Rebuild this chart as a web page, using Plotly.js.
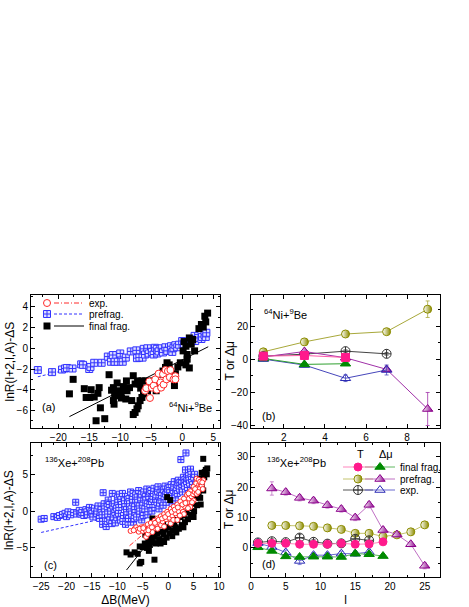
<!DOCTYPE html>
<html>
<head>
<meta charset="utf-8">
<script src="https://cdn.plot.ly/plotly-3.0.1.min.js"></script>
<style>
  html, body { margin: 0; padding: 0; background: #fff; }
  #chart { width: 469px; height: 607px; }
</style>
</head>
<body>
<div id="chart"></div>
<script>
// isoscaling / temperature figure, four panels
console.log("chart loaded");

/* -----------------------------
   Panel (a): 64Ni+9Be, [dB, lnR - dS]
------------------------------*/
const expA = [[-6.0,-4.1],[-5.8,-3.85],[-5.2,-4.8],[-5.3,-3.2],[-4.9,-3.8],[-4.6,-3.6],[-4.35,-3.0],
  [-4.1,-4.0],[-3.8,-2.45],[-3.5,-3.3],[-3.4,-3.8],[-3.1,-2.5],[-3.0,-3.5],[-2.7,-2.1],[-2.55,-3.0],
  [-2.3,-2.2],[-2.0,-2.8],[-1.9,-2.1],[-1.4,-3.0],[-1.1,-2.7],[-1.1,-3.0]];

const preA = [[-23.3,-2.1],[-21.0,-2.3],[-19.4,-2.05],[-18.9,-1.95],[-18.6,-1.9],[-17.7,-1.95],
  [-16.3,-1.55],[-16.0,-1.6],[-15.0,-2.0],[-14.8,-1.8],[-14.2,-1.4],[-13.0,-1.4],[-12.0,-0.8],
  [-11.5,-1.3],[-11.2,-0.65],[-10.9,-1.3],[-10.4,-1.3],[-10.0,-0.5],[-9.6,-1.3],[-9.1,-0.9],
  [-8.3,-0.3],[-7.4,-0.2],[-7.3,-0.95],[-6.9,-0.9],[-6.4,-0.9],[-6.2,-0.05],[-6.0,-0.6],[-5.6,0.0],
  [-5.4,-0.5],[-4.9,-0.35],[-4.6,-0.6],[-4.4,0.05],[-4.1,-0.05],[-4.0,-0.5],[-3.8,-0.3],[-3.3,0.0],
  [-3.1,-0.4],[-2.7,0.1],[-2.4,-0.25],[-1.8,0.2],[-1.6,-0.35],[-1.4,0.05],[-1.1,0.3],[-0.8,0.1],
  [-0.5,0.35],[0.0,0.7],[0.3,0.4],[0.8,0.6],[1.4,0.65],[1.6,0.8],[2.0,1.2],[2.1,0.7],[2.6,1.0],
  [3.1,0.9],[3.2,1.1],[3.6,1.3],[3.8,1.1],[3.9,1.5]];

const finA = [[-18.2,-4.4],[-17.6,-3.0],[-15.8,-3.9],[-15.5,-4.75],[-14.7,-4.0],[-14.9,-4.75],
  [-14.2,-4.7],[-13.4,-3.8],[-13.6,-4.35],[-13.9,-7.0],[-13.2,-5.75],[-12.5,-6.8],[-11.8,-2.55],
  [-11.4,-4.05],[-11.1,-3.8],[-10.9,-4.6],[-10.5,-3.35],[-10.3,-4.1],[-11.1,-5.05],[-11.0,-5.4],
  [-9.9,-4.25],[-9.8,-4.8],[-9.5,-3.7],[-9.0,-3.15],[-8.9,-4.1],[-8.5,-3.8],[-9.1,-4.9],[-8.15,-5.05],
  [-7.9,-2.65],[-7.6,-3.45],[-7.2,-3.15],[-6.9,-3.45],[-6.5,-3.15],[-6.7,-3.85],[-6.25,-4.4],
  [-5.9,-3.15],[-5.6,-4.1],[-7.9,-6.4],[-7.6,-6.2],[-7.3,-5.85],[-7.1,-5.55],[-6.8,-5.05],[-6.5,-4.75],
  [-5.2,-3.6],[-4.7,-3.15],[-4.5,-3.45],[-4.2,-4.1],[-3.8,-3.45],[-3.5,-2.5],[-3.1,-2.2],[-2.7,-1.85],
  [-2.45,-1.4],[-2.1,-1.6],[-1.6,-2.9],[-1.25,-3.6],[-1.1,-2.45],[-0.7,-1.8],[-0.3,-1.4],[0.15,-0.25],
  [0.3,0.65],[0.6,0.2],[0.8,-0.6],[1.15,1.0],[1.45,0.4],[1.7,0.85],[0.8,-1.05],[0.6,-1.6],[1.15,-1.9],
  [2.0,-0.25],[2.7,1.9],[3.1,2.3],[3.4,2.05],[3.8,2.55],[3.65,3.1],[4.1,3.4]];

const fitExpA = [[-6.0,-4.0],[-1.0,-2.3]];
const fitPreA = [[-23.3,-2.75],[4.0,1.2]];
const fitFinA = [[-18.2,-6.6],[4.2,0.15]];

/* -----------------------------
   Panel (c): 136Xe+208Pb
------------------------------*/
const preC = [[-25,-1.1],[-24.4,-1.0],[-22.5,-0.75],[-21.8,-0.85],[-21.4,-0.6],[-20.8,-0.45],
  [-20.3,-0.3],[-20.0,-0.75],[-19.7,-0.1],[-19.2,-0.5],[-18.6,-0.2],[-18.2,1.2],[-18.0,-0.4],
  [-17.5,0.1],[-17.2,-0.4],[-17.0,-0.2],[-16.6,-0.6],[-16.2,0.2],[-16.0,-0.1],[-15.9,-0.5],
  [-15.5,0.5],[-15.2,-0.1],[-15.0,-0.3],[-14.8,-0.8],[-14.5,0.4],[-14.1,-0.3],[-14.0,0.0],
  [-13.8,0.7],[-13.5,-1.0],[-13.2,0.2],[-13.0,-0.5],[-12.9,-1.8],[-12.8,2.5],[-12.6,1.0],
  [-12.5,0.3],[-12.4,-0.5],[-12.2,-2.1],[-12.0,0.6],[-12.0,-1.4],[-11.9,-0.4],[-11.8,1.5],
  [-11.6,0.9],[-11.5,-1.2],[-11.3,0.0],[-11.1,-1.7],[-11.0,2.4],[-10.9,0.7],[-10.8,-0.8],
  [-10.6,1.0],[-10.5,-0.2],[-10.4,-1.6],[-10.2,0.4],[-10.1,-0.9],[-10.0,1.8],[-9.9,1.2],
  [-9.8,-0.3],[-9.7,0.5],[-9.6,2.3],[-9.4,-1.2],[-9.3,1.6],[-9.2,0.9],[-9.0,2.4],[-8.9,-1.4],
  [-8.8,-0.6],[-8.6,1.4],[-8.5,0.6],[-8.4,-1.8],[-8.2,0.2],[-8.1,-0.5],[-8.0,2.0],[-7.9,-1.5],
  [-7.8,-1.0],[-7.7,1.7],[-7.6,1.0],[-7.4,2.6],[-7.3,0.3],[-7.2,-0.4],[-7.0,1.6],[-6.9,2.4],
  [-6.8,-1.5],[-6.7,-1.0],[-6.6,0.6],[-6.5,-0.2],[-6.4,2.2],[-6.2,-0.8],[-6.1,1.9],[-6.0,1.2],
  [-5.8,2.8],[-5.7,0.7],[-5.6,0.0],[-5.4,1.8],[-5.3,2.3],[-5.2,-1.2],[-5.0,0.8],[-4.9,-0.6],
  [-4.8,2.6],[-4.6,0.3],[-4.5,2.0],[-4.4,1.5],[-4.2,3.0],[-4.1,1.0],[-4.0,-0.5],[-3.8,2.0],
  [-3.7,2.6],[-3.6,0.9],[-3.4,2.8],[-3.3,1.3],[-3.2,0.0],[-3.0,1.6],[-2.9,2.4],[-2.8,3.1],
  [-2.6,0.5],[-2.5,1.6],[-2.4,2.2],[-2.2,1.2],[-2.1,2.7],[-2.0,3.3],[-1.8,0.3],[-1.7,1.1],
  [-1.6,2.5],[-1.4,1.5],[-1.3,2.1],[-1.2,3.0],[-1.0,0.8],[-0.9,2.9],[-0.8,2.0],[-0.6,3.4],
  [-0.5,2.3],[-0.4,1.2],[-0.2,2.6],[-0.1,3.0],[0.0,1.6],[0.2,3.2],[0.3,2.5],[0.4,2.0],[0.6,3.6],
  [0.7,2.1],[0.8,1.0],[1.0,2.8],[1.1,3.4],[1.2,4.0],[1.4,1.8],[1.5,2.6],[1.6,3.2],[1.8,2.4],
  [1.9,3.5],[2.0,4.2],[2.2,3.0],[2.3,3.9],[2.5,7.0],[2.6,3.8],[2.7,3.2],[2.8,2.6],[3.0,4.6],
  [3.1,3.8],[3.2,3.4],[3.3,4.3],[3.4,5.6],[3.5,7.9],[3.6,4.0],[3.7,4.6],[3.8,3.2],[4.0,4.8],
  [4.1,4.2],[4.2,3.8],[4.4,5.7],[4.5,5.0],[4.6,4.3],[4.8,3.6],[5.0,4.6],[5.2,5.0]];

const finC = [[-8.2,-5.6],[-7.4,-5.9],[-6.6,-5.6],[-6.0,-5.8],[-5.6,-7.1],[-5.3,-6.9],[-2.7,-6.6],
  [-5.6,-4.8],[-5.0,-4.9],[-4.6,-4.4],[-4.2,-5.0],[-3.9,-4.0],[-3.8,-5.4],[-3.6,-4.6],[-3.3,-3.6],
  [-3.0,-4.2],[-2.7,-3.4],[-2.4,-4.4],[-2.1,-3.0],[-1.8,-3.8],[-1.5,-2.8],[-1.5,-4.4],[-1.2,-4.0],
  [-0.9,-3.2],[-0.8,-4.2],[-0.6,-2.5],[-0.3,-3.6],[0.0,-2.2],[0.3,-3.0],[0.6,-1.8],[0.8,-3.4],
  [0.9,-2.6],[1.2,-1.5],[1.5,-2.2],[1.6,-2.9],[1.8,-1.2],[2.1,-2.4],[2.4,-0.8],[2.7,-1.9],
  [3.0,-0.6],[3.0,-2.2],[3.3,-1.5],[3.6,-0.2],[3.9,-1.1],[4.2,0.4],[4.5,-0.5],[4.8,1.0],
  [5.0,-0.8],[5.1,0.0],[5.4,1.8],[5.7,0.8],[6.0,2.6],[6.3,1.8],[6.4,0.9],[6.6,3.4],[6.9,2.8],
  [7.1,4.6],[7.4,5.6],[7.6,5.0],[6.9,7.1],[7.2,5.3],[7.7,5.8],[6.6,5.2],[6.2,4.4],[-3.1,-1.0],
  [-0.2,1.9],[0.4,1.5],[-1.0,-1.6],[0.5,-0.8],[-4.5,-3.2],[2.0,0.0],[4.0,2.0]];

const expC = [[-7.4,-2.7],[-6.6,-2.4],[-6.3,-2.2],[-6.0,-2.5],[-5.8,-2.8],[-5.3,-2.2],[-5.0,-2.7],
  [-4.7,-2.1],[-4.4,-2.6],[-4.35,-3.5],[-4.0,-1.8],[-4.0,-3.1],[-3.7,-2.3],[-3.4,-1.6],[-3.1,-2.85],
  [-2.9,-2.0],[-2.7,-1.3],[-2.4,-1.8],[-2.1,-1.0],[-2.1,-2.4],[-1.7,-1.6],[-1.45,-0.7],[-1.4,-1.9],
  [-1.1,-1.4],[-0.8,-0.4],[-0.8,-2.1],[-0.4,-1.1],[-0.2,-0.1],[0.2,-0.9],[0.5,0.3],[0.5,-1.7],
  [0.8,-0.6],[1.0,-1.2],[1.1,0.6],[1.4,-0.3],[1.8,0.9],[1.8,-1.2],[2.0,0.0],[2.4,1.3],[2.6,0.4],
  [2.9,-0.1],[3.1,1.7],[3.1,-0.4],[3.2,0.7],[3.7,2.2],[3.8,1.2],[4.1,1.7],[4.35,2.7],[4.35,0.55],
  [4.6,2.0],[4.9,2.3],[5.0,3.3],[5.0,1.45],[5.2,2.6],[5.5,3.8],[5.6,4.4],[5.6,2.35],[5.8,3.2],
  [6.0,4.25],[6.1,3.6],[6.2,3.0],[6.4,3.7],[6.6,3.5],[6.8,3.0],[6.9,4.2],
  [-6.8,-2.6],[-5.6,-2.4],[-4.9,-2.3],[-3.9,-2.6],[-3.2,-2.2],[-2.6,-1.6],[-1.9,-1.2],[-1.2,-1.0],
  [-0.6,-0.8],[0.0,-0.4],[0.7,-0.1],[1.3,0.2],[1.9,0.5],[2.3,-0.6],[2.8,0.9],[3.4,1.1],[3.9,0.4],
  [4.0,2.4],[4.7,1.2],[5.3,3.0],[5.9,2.6],[6.3,4.0],[6.7,3.9]];

const fitExpC = [[-7.6,-4.7],[6.5,3.5]];
const fitPreC = [[-25.0,-2.9],[5.0,1.7]];
const fitFinC = [[-8.2,-8.0],[7.5,5.7]];

/* -----------------------------
   Panel (b): 64Ni+9Be, T and dmu vs l
------------------------------*/
const lB        = [1, 3, 5, 7, 9];
const tFinB     = [2.0, 2.4, 1.2];
const muFinB    = [0.6, -3.0, -2.6];
const tPreB     = [4.6, 10.6, 15.4, 16.8, 30.4];
const tPreErrB  = [0.5, 0.5, 0.5, 0.5, 5.0];
const muPreB    = [1.5, 4.8, 1.0, -6.0, -30.0];
const muPreErrB = [0.5, 1.0, 0.5, 1.0, 10.0];
const tExpB     = [2.0, 3.2, 5.0, 3.4];
const tExpErrB  = [0.5, 0.8, 0.8, 0.8];
const muExpB    = [0.2, -3.4, -11.4, -6.4];
const muExpErrB = [0.6, 1.0, 2.0, 3.0];

/* -----------------------------
   Panel (d): 136Xe+208Pb
------------------------------*/
const lD        = [1, 3, 5, 7, 9, 11, 13, 15, 17, 19, 21, 23, 25];
const tFinD     = [1.5, 1.5, 1.5, 1.2, 1.2, 1.2, 1.5, 1.2, 1.3, 2.0];
const muFinD    = [0.2, -1.0, -2.8, -3.0, -2.9, -2.9, -3.0, -1.9, -2.1, -2.7];
const tPreD     = [7.4, 7.4, 7.3, 7.1, 6.6, 6.1, 4.8, 4.8, 3.8, 4.3, 5.3, 7.6];   // l = 3..25
const muPreD    = [19.6, 18.4, 16.5, 15.6, 14.1, 12.8, 10.0, 14.2, 5.9, 4.4, 1.2, -5.9];
const muPreErrD = [2.2, 1.0, 1.0, 1.0, 1.0, 1.0, 1.0, 1.0, 1.0, 0.8, 0.8, 1.0];
const tExpD     = [1.8, 2.2, 1.9, 3.4, 2.0, 1.4, 1.5, 3.0, 2.5];
const tExpErrD  = [1.0, 0.8, 0.8, 1.0, 0.8, 0.6, 0.6, 1.0, 0.8];
const muExpD    = [1.6, 0.3, -1.5, -4.3, -2.4, -2.4, -1.9, -1.9, -1.4];
const muExpErrD = [0.8, 0.8, 0.8, 1.2, 0.8, 0.8, 0.8, 0.8, 1.0];

/* -----------------------------
   Styling
------------------------------*/
const W = 469, H = 607;
const FONT = "Liberation Sans, Arial, sans-serif";
const BLANK = "\u00a0";   // symbol-only legend rows
const COL = {
    red: "#ff2a2a", blue: "#3333ff", blueFill: "#dadcff", black: "#000000",
    pink: "#ff1a8c", green: "#008a00", olive: "#8c8c00", purple: "#8b008b",
    navy: "#2a2ab4", gray: "#333333"
};

const xs = pts => pts.map(p => p[0]);
const ys = pts => pts.map(p => p[1]);

const MK_EXP = s => ({ symbol: "circle", size: s, color: "#ffffff", line: { color: COL.red, width: 1 } });
const MK_PRE = s => ({ symbol: "square-cross", size: s, color: COL.blueFill, line: { color: COL.blue, width: 1 } });
const MK_FIN = s => ({ symbol: "square", size: s, color: COL.black, line: { width: 0 } });

function cloud(pts, marker, xa, ya, legend) {
    return {
        type: "scatter", mode: "markers", x: xs(pts), y: ys(pts),
        xaxis: xa, yaxis: ya, marker, name: BLANK,
        showlegend: !!legend, legend: legend || "legend", hoverinfo: "skip"
    };
}

function fitLine(pts, color, dash, xa, ya, name, legend) {
    return {
        type: "scatter", mode: "lines", x: xs(pts), y: ys(pts),
        xaxis: xa, yaxis: ya, name: name || BLANK,
        line: { color, width: 1, dash },
        showlegend: !!legend, legend: legend || "legend", hoverinfo: "skip"
    };
}

function series(x, y, err, marker, lineColor, xa, ya, name, legend) {
    const t = {
        type: "scatter", mode: "lines+markers", x, y, xaxis: xa, yaxis: ya,
        name: name || BLANK, marker, line: { color: lineColor, width: 1 },
        showlegend: !!legend, legend: legend || "legend", hoverinfo: "skip"
    };
    if (err) t.error_y = { type: "data", array: err, visible: true, color: lineColor, thickness: 0.8, width: 2 };
    return t;
}

const mkTFin  = (sym) => ({ symbol: sym, size: 8, color: COL.pink, line: { color: COL.pink, width: 1 } });
const mkMuFin = () => ({ symbol: "triangle-up", size: 9, color: COL.green, line: { color: COL.green, width: 1 } });
const mkTPre  = () => ({ symbol: "circle", size: 8, color: "#ffffff",
                         gradient: { type: "horizontal", color: COL.olive }, line: { color: COL.olive, width: 1 } });
const mkMuPre = () => ({ symbol: "triangle-up", size: 9, color: "#ffffff",
                         gradient: { type: "horizontal", color: COL.purple }, line: { color: COL.purple, width: 1 } });
const mkTExp  = () => ({ symbol: "circle-cross-open", size: 9, color: COL.gray, line: { width: 1 } });
const mkMuExp = () => ({ symbol: "triangle-up-open", size: 9, color: COL.navy, line: { width: 1 } });

/* -----------------------------
   Traces
------------------------------*/
const traces = [
    // (a)
    fitLine(fitPreA, COL.blue, "3px,2px", "x", "y", "prefrag.", "legend5"),
    fitLine(fitFinA, COL.black, "solid", "x", "y", "final frag.", "legend6"),
    cloud(preA, MK_PRE(7), "x", "y", "legend2"),
    cloud(finA, MK_FIN(7), "x", "y", "legend3"),
    fitLine(fitExpA, COL.red, "5px,2px,1px,2px", "x", "y", "exp.", "legend4"),
    cloud(expA, MK_EXP(7), "x", "y", "legend"),

    // (c)
    fitLine(fitPreC, COL.blue, "3px,2px", "x3", "y3"),
    fitLine(fitFinC, COL.black, "solid", "x3", "y3"),
    cloud(preC, MK_PRE(6), "x3", "y3"),
    cloud(finC, MK_FIN(6), "x3", "y3"),
    fitLine(fitExpC, COL.red, "5px,2px,1px,2px", "x3", "y3"),
    cloud(expC, MK_EXP(5), "x3", "y3"),

    // (b)
    series(lB, tPreB, tPreErrB, mkTPre(), "#a8a83a", "x2", "y2"),
    series(lB.slice(0, 4), tExpB, tExpErrB, mkTExp(), "#444444", "x2", "y2"),
    series(lB, muPreB, muPreErrB, mkMuPre(), "#a030a8", "x2", "y2"),
    series(lB.slice(0, 4), muExpB, muExpErrB, mkMuExp(), "#4646bb", "x2", "y2"),
    series(lB.slice(0, 3), muFinB, null, mkMuFin(), "#2fa02f", "x2", "y2"),
    series(lB.slice(0, 3), tFinB, null, mkTFin("square"), "#ff5aa8", "x2", "y2"),

    // (d)
    series(lD.slice(1), tPreD, null, mkTPre(), "#c4c46e", "x4", "y4", "", "legend9"),
    series(lD.slice(1), muPreD, muPreErrD, mkMuPre(), "#c070c4", "x4", "y4", "prefrag.", "legend10"),
    series(lD.slice(0, 9), tExpD, tExpErrD, mkTExp(), "#555555", "x4", "y4", "", "legend11"),
    series(lD.slice(0, 9), muExpD, muExpErrD, mkMuExp(), "#6a6ad0", "x4", "y4", "exp.", "legend12"),
    series(lD.slice(0, 10), muFinD, null, mkMuFin(), "#60b860", "x4", "y4", "final frag.", "legend8"),
    series(lD.slice(0, 10), tFinD, null, mkTFin("circle"), "#ff86bd", "x4", "y4", "", "legend7")
];

/* -----------------------------
   Layout
------------------------------*/
function axis(range, dtick, minor, domain, anchor, extra) {
    return Object.assign({
        range, dtick, tick0: 0, domain, anchor,
        showline: true, linecolor: "#000", linewidth: 1, mirror: "ticks",
        ticks: "inside", ticklen: 4, tickwidth: 1, tickcolor: "#000",
        minor: { dtick: minor, tick0: 0, ticks: "inside", ticklen: 2, tickcolor: "#000", showgrid: false },
        showgrid: false, zeroline: false, fixedrange: true,
        tickfont: { family: FONT, size: 10, color: "#000" }
    }, extra || {});
}

const ttl = text => ({ text, font: { family: FONT, size: 12, color: "#000" } });

const dxL = [31 / W, 220 / W], dxR = [251 / W, 440 / W];
const dyT = [(H - 428) / H, (H - 295) / H], dyB = [(H - 577) / H, (H - 443) / H];

function legendAt(px, py) {
    return {
        x: px / W, y: 1 - py / H, xanchor: "left", yanchor: "middle",
        bgcolor: "rgba(0,0,0,0)", borderwidth: 0,
        font: { family: FONT, size: 10, color: "#000" },
        itemclick: false, itemdoubleclick: false
    };
}

function note(text, xref, yref, x, y, size) {
    return { text, xref, yref, x, y, xanchor: "left", yanchor: "middle", showarrow: false,
             font: { family: FONT, size: size || 11, color: "#000" } };
}

// rotated y titles, placed by pixel column left of each panel
function yTitle(text, px, domain) {
    return { text, xref: "paper", yref: "paper", x: px / W, y: (domain[0] + domain[1]) / 2,
             xanchor: "center", yanchor: "middle", textangle: -90, showarrow: false,
             font: { family: FONT, size: 12, color: "#000" } };
}

const NI = "<sup>64</sup>Ni+<sup>9</sup>Be";
const XE = "<sup>136</sup>Xe+<sup>208</sup>Pb";

const layout = {
    width: W, height: H,
    margin: { l: 0, r: 0, t: 0, b: 0 },
    paper_bgcolor: "#fff", plot_bgcolor: "#fff",
    font: { family: FONT, color: "#000" },
    xaxis:  axis([-24.4, 6.1], 5, 2.5, dxL, "y"),
    yaxis:  axis([-7.7, 5.15], 2, 1, dyT, "x"),
    xaxis2: axis([0.4, 9.6], 2, 1, dxR, "y2"),
    yaxis2: axis([-41.5, 39], 20, 10, dyT, "x2"),
    xaxis3: axis([-27, 10.2], 5, 2.5, dxL, "y3", { title: ttl("ΔB(MeV)") }),
    yaxis3: axis([-8.95, 9.25], 5, 2.5, dyB, "x3"),
    xaxis4: axis([0, 27.2], 5, 2.5, dxR, "y4", { title: ttl("l") }),
    yaxis4: axis([-9.6, 34.6], 10, 5, dyB, "x4"),

    // panel (a) key: symbol column, then line + label column
    legend:   legendAt(27, 303),
    legend2:  legendAt(27, 314),
    legend3:  legendAt(27, 326),
    legend4:  legendAt(49, 303),
    legend5:  legendAt(49, 314),
    legend6:  legendAt(49, 326),
    // panel (d) key: T column, dmu column + label
    legend7:  legendAt(338, 467),
    legend8:  legendAt(360, 467),
    legend9:  legendAt(338, 479),
    legend10: legendAt(360, 479),
    legend11: legendAt(338, 490),
    legend12: legendAt(360, 490),

    annotations: [
        yTitle("lnR(l+2,l,A)-ΔS", 9, dyT),
        yTitle("lnR(l+2,l,A)-ΔS", 9, dyB),
        yTitle("T or Δμ", 229, dyT),
        yTitle("T or Δμ", 229, dyB),
        note("(a)", "x domain", "y domain", 0.048, 0.158),
        note(NI, "x domain", "y domain", 0.72, 0.158),
        note(NI, "x2 domain", "y2 domain", 0.058, 0.857),
        note("(b)", "x2 domain", "y2 domain", 0.048, 0.09),
        note(XE, "x3 domain", "y3 domain", 0.063, 0.858),
        note("(c)", "x3 domain", "y3 domain", 0.058, 0.09),
        note(XE, "x4 domain", "y4 domain", 0.074, 0.858),
        note("(d)", "x4 domain", "y4 domain", 0.048, 0.097),
        note("T", "x4 domain", "y4 domain", 0.55, 0.918),
        note("Δμ", "x4 domain", "y4 domain", 0.665, 0.918)
    ]
};

Plotly.newPlot("chart", traces, layout, { displayModeBar: false, staticPlot: true });
</script>
</body>
</html>
